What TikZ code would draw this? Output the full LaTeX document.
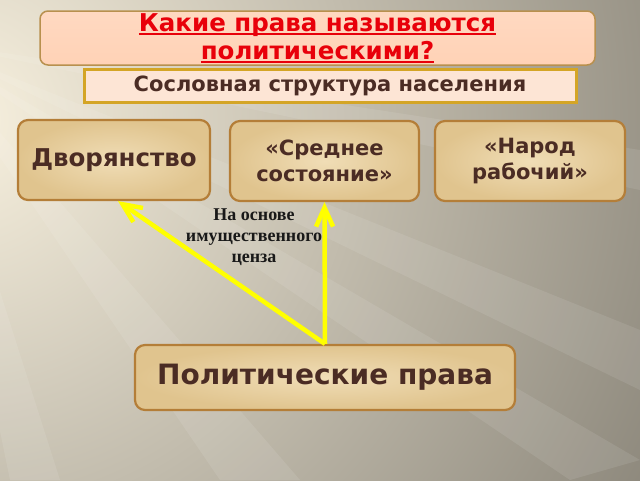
\documentclass[tikz,border=0pt]{standalone}
\usepackage{fontspec}
\setmainfont{DejaVu Sans}
\newfontfamily\labelfont{Liberation Serif}
\usetikzlibrary{arrows.meta}

\definecolor{bgleft}{HTML}{F8F1DF}
\definecolor{bgright}{HTML}{8C877B}
\definecolor{titlefill}{HTML}{FFD2B6}
\definecolor{titleedge}{HTML}{B8904E}
\definecolor{titlered}{HTML}{E8000A}
\definecolor{subfill}{HTML}{FDE5D5}
\definecolor{subedge}{HTML}{D4A526}
\definecolor{boxtext}{HTML}{4B2C24}
\definecolor{boxedge}{HTML}{B47E38}
\definecolor{parchlight}{HTML}{F0DDB6}
\definecolor{parchdark}{HTML}{E0C48E}
\definecolor{arrowyellow}{HTML}{FFFF00}

\newcommand\titleline[1]{\setbox0\hbox{#1}\rlap{\color{titlered}\rule[-3.5pt]{\wd0}{1.8pt}}\box0}

\begin{document}
\begin{tikzpicture}
      [x=1pt, y=-1pt,
       parchment/.style={draw=boxedge, line width=2.2pt, rounded corners=10pt,
         inner color=parchlight, outer color=parchdark, text=boxtext,
         font=\bfseries\fontsize{21}{25.5}\selectfont, align=center, inner sep=0pt},
       ray/.style={white, opacity=0.09},
       pointer/.style={draw=arrowyellow, line width=4.5pt,
         -{Straight Barb[length=19pt, width=17pt]}}]
      \useasboundingbox (0,0) rectangle (640,480);

      % background
      \begin{scope}
        \clip (0,0) rectangle (640,480);
        \fill[bgright] (0,0) rectangle (640,480);
        \shade[inner color=bgleft, outer color=bgright] (-40,120) circle (790);
        \fill[ray] (-80,40) -- (640,330) -- (640,390) -- cycle;
        \fill[ray] (-80,40) -- (640,460) -- (570,480) -- cycle;
        \fill[ray] (-80,40) -- (300,480) -- (220,480) -- cycle;
        \fill[ray] (-80,40) -- (640,150) -- (640,190) -- cycle;
        \fill[ray] (-80,40) -- (60,480) -- (10,480) -- cycle;
      \end{scope}

      \node[draw=titleedge, line width=1.5pt, rounded corners=8pt, top color=titlefill!85!white,
            bottom color=titlefill, minimum width=555pt, minimum height=54pt, inner sep=0pt,
            text=titlered, align=center, font=\bfseries\fontsize{24.5}{28}\selectfont]
            (title) at (317.5, 38) {\titleline{Какие права называются}\\\titleline{политическими?}};
      \node[draw=subedge, line width=3pt, fill=subfill, minimum width=492pt, minimum height=33pt,
            inner sep=0pt, text=boxtext, font=\bfseries\fontsize{21}{24}\selectfont]
            (estates) at (330, 85.5) {Сословная структура населения};

      \node[parchment, minimum width=192pt, minimum height=80pt,
            font=\bfseries\fontsize{24.5}{28}\selectfont] (dvor) at (114, 160) {Дворянство};
      \node[parchment, minimum width=189pt, minimum height=80pt] (sred) at (324.5, 161) {«Среднее\\состояние»};
      \node[parchment, minimum width=190pt, minimum height=80pt] (narod) at (530, 161) {«Народ\\рабочий»};

      \node[parchment, minimum width=380pt, minimum height=65pt,
            font=\bfseries\fontsize{28}{32}\selectfont] (prava) at (325, 377.5) {Политические права};

      \node[align=center, text=black!90, font=\labelfont\bfseries\fontsize{18}{21}\selectfont]
            (census) at (254, 237) {На основе\\имущественного\\ценза};

      \draw[pointer] (prava.north) -- ([xshift=4pt]dvor.south);
      \draw[pointer] (prava.north) -- (sred.south);
    \end{tikzpicture}
\end{document}
